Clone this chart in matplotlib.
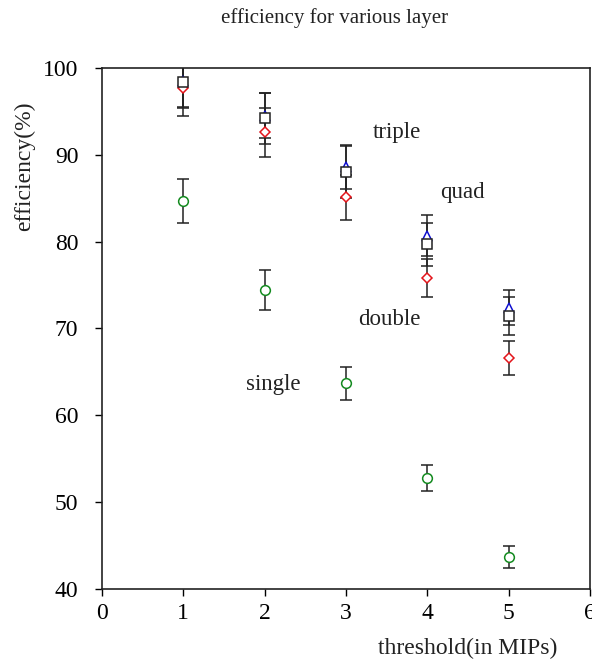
import matplotlib.pyplot as plt

plt.rcParams['font.family'] = ['Liberation Serif', 'DejaVu Serif']

thresholds = [1, 2, 3, 4, 5]

single = [84.7, 74.4, 63.7, 52.8, 43.7]
single_err = [2.5, 2.3, 1.9, 1.5, 1.3]

double = [97.7, 92.6, 85.1, 75.8, 66.6]
double_err = [3.2, 2.8, 2.6, 2.2, 2.0]

triple = [98.5, 94.5, 88.6, 80.7, 72.4]
triple_err = [3.0, 2.6, 2.5, 2.4, 2.0]

quad = [98.4, 94.2, 88.0, 79.7, 71.4]
quad_err = [3.0, 2.9, 3.0, 2.5, 2.2]

labels = ["single", "double", "triple", "quad"]
label_pos = [(2.1, 63.6), (3.53, 71.0), (3.62, 92.6), (4.43, 85.7)]


def plot_series(ax, y, yerr, marker, color, ms=7):
    """
    Open markers with black error bars
    """
    ax.errorbar(thresholds, y, yerr=yerr, fmt='none', ecolor='#222222',
                elinewidth=1.1, capsize=4, capthick=1.1, zorder=2)
    ax.plot(thresholds, y, linestyle='none', marker=marker, ms=ms,
            mfc='white', mec=color, mew=1.1, zorder=3)


fig = plt.figure(figsize=(5.92, 6.59), dpi=100)
ax = fig.add_axes([102 / 592, 1 - 589 / 659, 488 / 592, 521 / 659])

plot_series(ax, single, single_err, 'o', '#138a1f')
plot_series(ax, double, double_err, 'D', '#e3141a', ms=5.5)
plot_series(ax, triple, triple_err, '^', '#1010d0')
plot_series(ax, quad, quad_err, 's', '#222222')

for text, (x, y) in zip(labels, label_pos):
    ax.text(x, y, text, fontsize=16.5, ha='center', va='center', color='#222222')

ax.set_xlim(0, 6)
ax.set_ylim(40, 100)
ax.set_xticks(range(0, 7))
ax.set_yticks(range(40, 101, 10))
ax.tick_params(axis='x', direction='out', length=5, width=1, labelsize=17, pad=5)
ax.tick_params(axis='y', direction='out', length=5, width=1, labelsize=17, pad=12)
for s in ax.spines.values():
    s.set_linewidth(1.2)
    s.set_color('#222222')

fig.text(335 / 592, 1 - 18 / 659, "efficiency for various layer", fontsize=15,
         ha='center', va='center', color='#222222')
fig.text(25 / 592, 1 - 166 / 659, "efficiency(%)", fontsize=17, rotation=90,
         ha='center', va='center', color='#222222')
fig.text(468 / 592, 1 - 648 / 659, "threshold(in MIPs)", fontsize=17,
         ha='center', va='center', color='#222222')

fig.savefig("out.png", dpi=100)
